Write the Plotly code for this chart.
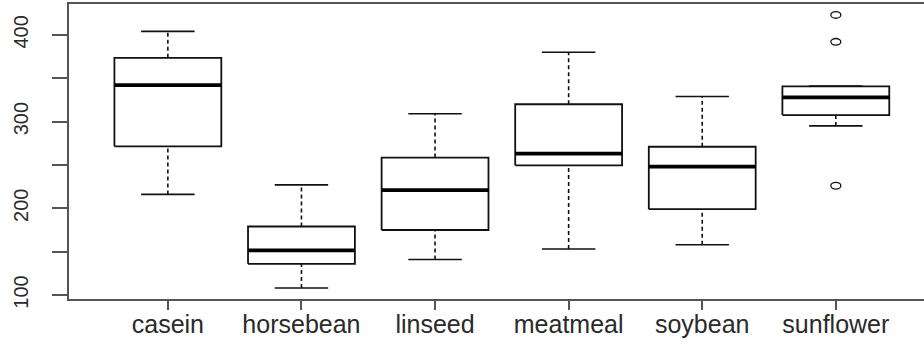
import plotly.graph_objects as go

# Chick weights by feed type: box summary statistics (Tukey hinges)
groups = ["casein", "horsebean", "linseed", "meatmeal", "soybean", "sunflower"]
whisker_low = [216, 108, 141, 153, 158, 295]
hinge_low = [271.5, 136, 175, 249.5, 199, 307.5]
medians = [342, 151.5, 221, 263, 248, 328]
hinge_high = [373.5, 179, 258.5, 320, 271, 340.5]
whisker_high = [404, 227, 309, 380, 329, 341]

# Outlying observations (group index, weight)
outlier_group = [5, 5, 5]
outlier_value = [423, 392, 226]

y_ticks = [100, 200, 300, 400]

BOX_HALF = 0.4
CAP_HALF = 0.2
INK = "#111111"
AXIS = "#555555"

fig = go.Figure()

for i, name in enumerate(groups):
    x = i + 1
    lo, q1, med, q3, hi = whisker_low[i], hinge_low[i], medians[i], hinge_high[i], whisker_high[i]
    # dashed whiskers
    for a, b in ((lo, q1), (q3, hi)):
        fig.add_trace(go.Scatter(x=[x, x], y=[a, b], mode="lines",
                                 line=dict(color=INK, width=1.6, dash="4px,3px"),
                                 hoverinfo="skip", showlegend=False))
    # staples
    for v in (lo, hi):
        fig.add_trace(go.Scatter(x=[x - CAP_HALF, x + CAP_HALF], y=[v, v], mode="lines",
                                 line=dict(color=INK, width=1.6),
                                 hoverinfo="skip", showlegend=False))
    # box
    fig.add_trace(go.Scatter(x=[x - BOX_HALF, x + BOX_HALF, x + BOX_HALF, x - BOX_HALF, x - BOX_HALF],
                             y=[q1, q1, q3, q3, q1], mode="lines",
                             line=dict(color=INK, width=1.8),
                             hoverinfo="skip", showlegend=False))
    # median
    fig.add_trace(go.Scatter(x=[x - BOX_HALF, x + BOX_HALF], y=[med, med], mode="lines",
                             line=dict(color="#000000", width=3.8),
                             hoverinfo="skip", showlegend=False))

# outliers as small open ellipses
shapes = []
for g, v in zip(outlier_group, outlier_value):
    shapes.append(dict(type="circle", xref="x", yref="y",
                       xsizemode="pixel", ysizemode="pixel",
                       xanchor=g + 1, yanchor=v,
                       x0=-5, x1=5, y0=-3.3, y1=3.3,
                       line=dict(color=INK, width=1.3)))

fig.update_layout(
    width=924, height=347,
    margin=dict(l=69, r=0, t=4, b=48),
    paper_bgcolor="white", plot_bgcolor="white",
    shapes=shapes,
    font=dict(family="Liberation Sans, Arial, sans-serif", color="#2a2a2a"),
)

fig.update_xaxes(
    range=[0.26, 6.66],
    tickmode="array", tickvals=list(range(1, len(groups) + 1)), ticktext=groups,
    ticks="outside", ticklen=9, tickwidth=1.5, tickcolor=AXIS,
    showline=True, linecolor=AXIS, linewidth=2, mirror=True,
    showgrid=False, zeroline=False,
    tickfont=dict(size=25),
    ticklabelstandoff=-7,
)

fig.update_yaxes(
    range=[95.4, 435.6],
    tickmode="array", tickvals=y_ticks,
    ticks="outside", ticklen=15, tickwidth=1.5, tickcolor=AXIS,
    minor=dict(dtick=50, tick0=100, ticks="outside", ticklen=15, tickwidth=1.5, tickcolor=AXIS),
    showline=True, linecolor=AXIS, linewidth=2,
    showgrid=False, zeroline=False,
    tickangle=-90, tickfont=dict(size=20),
    ticklabelstandoff=16,
)

fig.write_html("out.html")
